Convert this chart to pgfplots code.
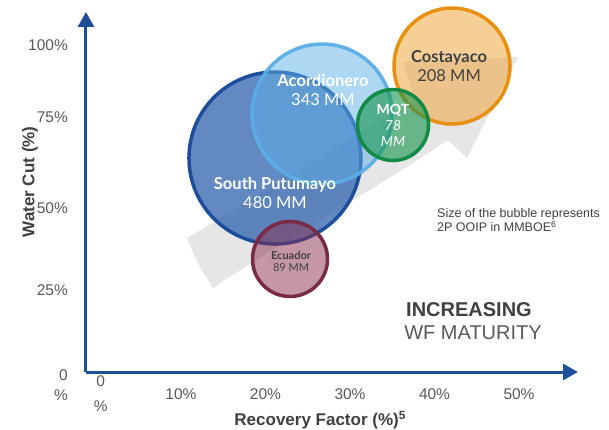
\documentclass[border=0pt]{standalone}
\usepackage{pgfplots}
\pgfplotsset{compat=1.18}
\usetikzlibrary{arrows.meta}
\usepackage{fontspec}
\setmainfont{Liberation Sans}
\newfontfamily\lato{Lato}
\definecolor{axblue}{HTML}{1F4E9A}
\definecolor{ticktxt}{HTML}{595959}
\definecolor{labtxt}{HTML}{404040}
\definecolor{arrowgrey}{HTML}{E6E6E6}
\definecolor{spfill}{HTML}{2F62AD}
\definecolor{spdraw}{HTML}{1D4E9B}
\definecolor{acfill}{HTML}{5EB0E8}
\definecolor{acdraw}{HTML}{5AAEE6}
\definecolor{cofill}{HTML}{EEA030}
\definecolor{codraw}{HTML}{E8900F}
\definecolor{mqfill}{HTML}{1A9850}
\definecolor{mqdraw}{HTML}{138A45}
\definecolor{ecfill}{HTML}{8B2E4F}
\definecolor{ecdraw}{HTML}{7B2A45}
\begin{document}
\begin{tikzpicture}
\useasboundingbox (-86bp,-58bp) rectangle (523bp,372bp);
\begin{axis}[
  at={(0,0)}, anchor=south west,
  width=492bp, height=360bp, scale only axis,
  xmin=-1.243, xmax=56.98, ymin=0, ymax=110.1,
  clip=false,
  axis x line=bottom, axis y line=left,
  x axis line style={line width=3bp, draw=axblue, -{Triangle[length=15bp,width=16bp]}},
  y axis line style={line width=3bp, draw=axblue, -{Triangle[length=15bp,width=16bp]}},
  major tick length=0pt,
  tick style={draw=none},
  /pgf/number format/assume math mode=true,
  xtick={0.5,10,20,30,40,50},
  xticklabels={{0\\\%},10\%,20\%,30\%,40\%,50\%},
  ytick={25,50,78,100},
  yticklabels={25\%,50\%,75\%,100\%},
  xticklabel style={anchor=center, yshift=-22bp, align=center, inner sep=0pt,
    font=\fontsize{15.5bp}{25bp}\selectfont, text=ticktxt},
  yticklabel style={anchor=east, xshift=-18bp, inner sep=0pt,
    font=\fontsize{15.5bp}{18bp}\selectfont, text=ticktxt},
  xlabel={Recovery Factor (\%)\textsuperscript{5}},
  ylabel={Water Cut (\%)},
  xlabel style={at={(axis description cs:0.476,-0.1333)}, anchor=center,
    font=\bfseries\fontsize{17bp}{20bp}\selectfont, text=labtxt},
  ylabel style={at={(axis description cs:-0.1138,0.528)}, anchor=center,
    font=\bfseries\fontsize{17bp}{20bp}\selectfont, text=labtxt},
]
% background "increasing maturity" arrow
\fill[arrowgrey] (axis cs:10.71,40.98) .. controls (axis cs:22,58) and (axis cs:30,72) ..
  (axis cs:37.69,83.18) -- (axis cs:36.27,94.80) -- (axis cs:49.88,96.33) --
  (axis cs:43.85,65.44) -- (axis cs:41.60,70.95) .. controls (axis cs:33,56) and (axis cs:22,40) ..
  (axis cs:13.79,25.69) .. controls (axis cs:12.2,32) .. cycle;

% bubbles: x = recovery factor, y = water cut, mark size ~ sqrt(OOIP)
\addplot[only marks, mark=*, mark size=86bp,
  mark options={fill=spfill, fill opacity=0.75, draw=spdraw, draw opacity=1, line width=3.5bp}]
  coordinates {(21.12,65.44)};
\addplot[only marks, mark=*, mark size=70bp,
  mark options={fill=acfill, fill opacity=0.5, draw=acdraw, draw opacity=0.95, line width=3.5bp}]
  coordinates {(26.69,78.90)};
\addplot[only marks, mark=*, mark size=58bp,
  mark options={fill=cofill, fill opacity=0.5, draw=codraw, draw opacity=1, line width=3.5bp}]
  coordinates {(42.07,93.58)};
\addplot[only marks, mark=*, mark size=35.5bp,
  mark options={fill=mqfill, fill opacity=0.62, draw=mqdraw, draw opacity=1, line width=3.5bp}]
  coordinates {(35.09,75.54)};
\addplot[only marks, mark=*, mark size=37.5bp,
  mark options={fill=ecfill, fill opacity=0.5, draw=ecdraw, draw opacity=1, line width=3.5bp}]
  coordinates {(22.90,34.56)};

\coordinate (lsp) at (axis cs:21.12,54.89);
\coordinate (lac) at (axis cs:26.80,86.24);
\coordinate (lco) at (axis cs:41.72,93.58);
\coordinate (lmq) at (axis cs:35.09,75.54);
\coordinate (lec) at (axis cs:23.02,33.79);
\coordinate (lzero) at (axis description cs:0,-0.0361);
\coordinate (lsize) at (axis description cs:0.7134,0.4222);
\coordinate (linc) at (axis description cs:0.7785,0.1722);
\coordinate (lwf) at (axis description cs:0.7866,0.1083);
\end{axis}
% bubble labels
\node[align=center, text=white, font=\lato\fontsize{16.5bp}{19bp}\selectfont]
  at (lsp) {\bfseries South Putumayo\\480 MM};
\node[align=center, text=white, font=\lato\fontsize{16.5bp}{19bp}\selectfont]
  at (lac) {\bfseries Acordionero\\343 MM};
\node[align=center, text=labtxt, font=\lato\fontsize{16.5bp}{19bp}\selectfont]
  at (lco) {\bfseries Costayaco\\208 MM};
\node[align=center, text=white, font=\lato\fontsize{14bp}{16bp}\selectfont]
  at (lmq) {\bfseries MQT\\\itshape 78\\\itshape MM};
\node[align=center, text=labtxt, font=\lato\fontsize{11bp}{11.5bp}\selectfont]
  at (lec) {\bfseries Ecuador\\89 MM};
% zero tick label of y
\node[anchor=east, align=right, inner sep=0pt, text=ticktxt, font=\fontsize{15.5bp}{20bp}\selectfont]
  at ([xshift=-18bp]lzero) {0\\\%};
% annotations
\node[anchor=west, align=left, inner sep=0pt, text=labtxt, font=\fontsize{12.5bp}{14bp}\selectfont]
  at (lsize) {Size of the bubble represents\\2P OOIP in MMBOE\textsuperscript{6}};
\node[anchor=center, inner sep=0pt, text=labtxt, font=\bfseries\fontsize{20bp}{22bp}\selectfont]
  at (linc) {INCREASING};
\node[anchor=center, inner sep=0pt, text=ticktxt, font=\fontsize{20bp}{22bp}\selectfont]
  at (lwf) {WF MATURITY};
\end{tikzpicture}
\end{document}
